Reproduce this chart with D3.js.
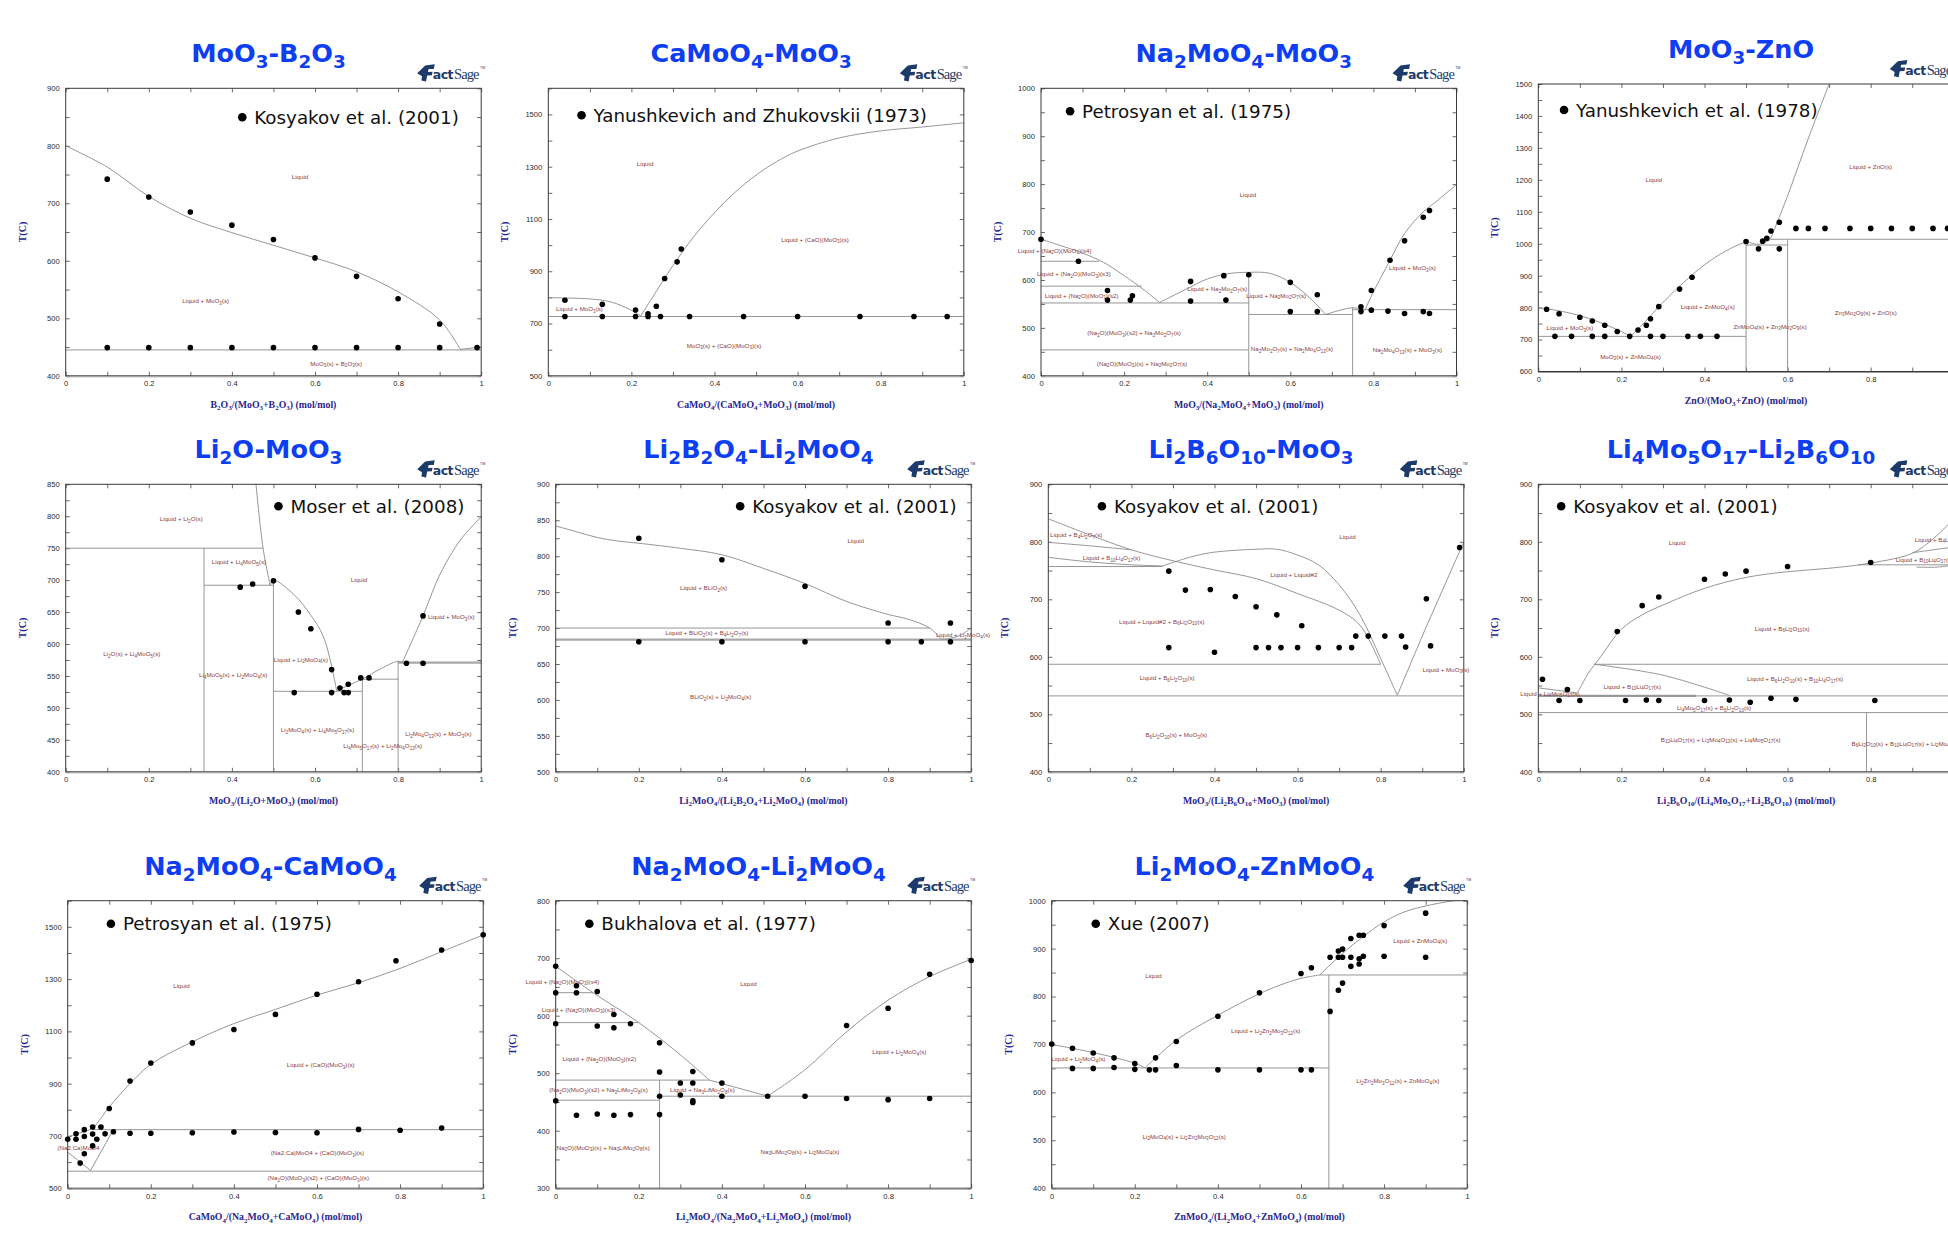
<!DOCTYPE html>
<html>
<head>
<meta charset="utf-8">
<script src="https://cdn.jsdelivr.net/npm/d3@7"></script>
<style>
  html, body { margin: 0; padding: 0; background: #fff; overflow: hidden; }
  svg { display: block; }
</style>
</head>
<body>
<script>
// ---------- shared axis values ----------
const xMajor = [0, 0.2, 0.4, 0.6, 0.8, 1];
const xTickLabels = ["0", "0.2", "0.4", "0.6", "0.8", "1"];

// ---------- MoO3-B2O3 ----------
const mbTicks = [400, 500, 600, 700, 800, 900];
const mbLiquidus = [[0,800],[0.1,763],[0.2,712],[0.3,674],[0.4,649],[0.5,627],[0.6,605],[0.7,581],[0.8,546],[0.9,497],[0.95,446]];
const mbLiquidusB2O3 = [[0.95,446],[1,450]];
const mbEutectic = [[0,445],[1,445]];
const mbPoints = [[0.1,742],[0.2,711],[0.3,685],[0.4,662],[0.5,637],[0.6,605],[0.7,573],[0.8,534],[0.9,490],
  [0.1,449],[0.2,449],[0.3,449],[0.4,449],[0.5,449],[0.6,449],[0.7,449],[0.8,449],[0.9,449],[0.99,449]];
const mbLabels = [[0.564,746,"Liquid"],[0.337,530,"Liquid + MoO_3(s)"],[0.651,421,"MoO_3(s) + B_2O_3(s)"]];

// ---------- CaMoO4-MoO3 ----------
const cmTicks = [500, 700, 900, 1100, 1300, 1500];
const cmLiquidusMoO3 = [[0,799],[0.1,794],[0.15,783],[0.2,751],[0.222,729]];
const cmLiquidusCaMoO4 = [[0.222,729],[0.25,798],[0.3,922],[0.35,1032],[0.4,1124],[0.45,1203],[0.5,1268],[0.55,1320],[0.6,1360],[0.7,1410],[0.8,1437],[0.9,1452],[1,1468]];
const cmEutectic = [[0,727],[1,727]];
const cmPoints = [[0.04,789],[0.04,727],[0.13,774],[0.13,727],[0.21,752],[0.21,727],[0.24,737],[0.24,727],[0.26,766],[0.27,727],
  [0.28,872],[0.31,936],[0.32,985],[0.34,727],[0.47,727],[0.6,727],[0.75,727],[0.88,727],[0.96,727]];
const cmLabels = [[0.233,1311,"Liquid"],[0.075,756,"Liquid + MoO_3(s)"],[0.642,1022,"Liquid + (CaO)(MoO_3)(s)"],[0.423,616,"MoO_3(s) + (CaO)(MoO_3)(s)"]];

// ---------- Na2MoO4-MoO3 ----------
const nmTicks = [400, 500, 600, 700, 800, 900, 1000];
const nmLiquidusLeft = [[0,685],[0.1,656],[0.15,637],[0.2,609],[0.25,578],[0.285,553]];
const nmDome = [[0.285,553],[0.35,581],[0.4,602],[0.45,613],[0.5,616],[0.55,614],[0.6,595],[0.65,560],[0.685,528]];
const nmBump = [[0.685,528],[0.72,537],[0.75,542],[0.78,538]];
const nmLiquidusMoO3 = [[0.78,538],[0.8,575],[0.84,641],[0.875,697],[0.92,742],[0.95,763],[1,799]];
const nmInvariants = [[[0,639],[0.14,639]],[[0,587],[0.242,587]],[[0,552],[0.5,552]],[[0,454],[0.5,454]],[[0.5,528],[0.75,528]],[[0.75,538],[1,538]],
  [[0.5,400],[0.5,616]],[[0.75,400],[0.75,542]]];
const nmPoints = [[0,685],[0.09,639],[0.16,578],[0.16,558],[0.215,558],[0.22,567],[0.36,597],[0.36,556],[0.44,609],[0.445,558],[0.5,611],
  [0.6,595],[0.6,534],[0.665,569],[0.665,534],[0.77,544],[0.77,534],[0.795,578],[0.795,537],[0.84,641],[0.835,535],[0.875,682],[0.875,530],
  [0.92,731],[0.92,534],[0.935,745],[0.935,530]];
const nmLabels = [[0.498,778,"Liquid"],[0.033,661,"Liquid + (Na_2O)(MoO_3)(s4)"],[0.079,612,"Liquid + (Na_2O)(MoO_3)(s3)"],[0.098,567,"Liquid + (Na_2O)(MoO_3)(s2)"],
  [0.424,581,"Liquid + Na_2Mo_2O_7(s)"],[0.566,567,"Liquid + Na_2Mo_2O_7(s)"],[0.894,625,"Liquid + MoO_3(s)"],
  [0.224,489,"(Na_2O)(MoO_3)(s2) + Na_2Mo_2O_7(s)"],[0.243,426,"(Na_2O)(MoO_3)(s) + Na_2Mo_2O_7(s)"],
  [0.604,456,"Na_2Mo_2O_7(s) + Na_2Mo_4O_13(s)"],[0.882,454,"Na_2Mo_4O_13(s) + MoO_3(s)"]];

// ---------- MoO3-ZnO ----------
const mzTicks = [600, 700, 800, 900, 1000, 1100, 1200, 1300, 1400, 1500];
const mzLiquidusMoO3 = [[0,800],[0.05,790],[0.1,775],[0.15,753],[0.2,725],[0.222,710]];
const mzLiquidusZnMoO4 = [[0.222,710],[0.25,746],[0.3,816],[0.35,879],[0.4,934],[0.45,976],[0.5,1004],[0.53,998],[0.558,1012]];
const mzLiquidusZnO = [[0.558,1012],[0.6,1150],[0.65,1330],[0.7,1500]];
const mzInvariants = [[[0,710],[0.5,710]],[[0.5,996],[0.6,996]],[[0.56,1014],[1,1014]],[[0.5,600],[0.5,1004]],[[0.6,600],[0.6,1014]]];
const mzPoints = [[0.02,795],[0.05,781],[0.1,770],[0.13,758],[0.16,745],[0.19,725],[0.22,710],[0.24,730],[0.26,745],[0.27,765],[0.29,803],
  [0.34,858],[0.37,895],[0.5,1007],[0.53,984],[0.54,1008],[0.55,1017],[0.56,1040],[0.58,1067],[0.58,984],
  [0.04,710],[0.08,710],[0.13,710],[0.16,710],[0.27,710],[0.3,710],[0.36,710],[0.39,710],[0.43,710],
  [0.62,1048],[0.65,1048],[0.69,1048],[0.75,1048],[0.8,1048],[0.85,1048],[0.9,1048],[0.95,1048],[0.985,1048]];
const mzLabels = [[0.278,1200,"Liquid"],[0.8,1241,"Liquid + ZnO(s)"],[0.408,801,"Liquid + ZnMoO_4(s)"],[0.076,736,"Liquid + MoO_3(s)"],
  [0.222,647,"MoO_3(s) + ZnMoO_4(s)"],[0.558,741,"ZnMoO_4(s) + Zn_3Mo_2O_9(s)"],[0.788,785,"Zn_3Mo_2O_9(s) + ZnO(s)"]];

// ---------- Li2O-MoO3 ----------
const lmTicks = [400, 450, 500, 550, 600, 650, 700, 750, 800, 850];
const lmLiquidusLi4MoO5 = [[0.458,850],[0.475,750],[0.492,692]];
const lmLiquidusLi2MoO4 = [[0.492,692],[0.5,700],[0.55,677],[0.59,645],[0.62,612],[0.64,565],[0.652,527]];
const lmLiquidusMid = [[0.652,527],[0.7,541],[0.714,545],[0.76,562],[0.8,573],[0.81,571]];
const lmLiquidusMoO3 = [[0.81,571],[0.86,644],[0.9,708],[0.95,763],[1,799]];
const lmInvariants = [[[0,750],[0.475,750]],[[0.333,692],[0.5,692]],[[0.5,526],[0.714,526]],[[0.714,545],[0.8,545]],
  [[0.333,400],[0.333,750]],[[0.5,400],[0.5,700]],[[0.714,400],[0.714,545]],[[0.8,400],[0.8,573]]];
const lmThick = [[[0.8,571],[1,571]]];
const lmPoints = [[0.42,689],[0.45,694],[0.5,699],[0.56,650],[0.59,624],[0.64,560],[0.55,524],[0.64,524],[0.66,531],[0.67,524],[0.68,537],
  [0.68,524],[0.71,547],[0.73,547],[0.82,570],[0.86,570],[0.86,644]];
const lmLabels = [[0.278,796,"Liquid + Li_2O(s)"],[0.417,728,"Liquid + Li_4MoO_5(s)"],[0.706,701,"Liquid"],[0.928,642,"Liquid + MoO_3(s)"],
  [0.159,584,"Li_2O(s) + Li_4MoO_5(s)"],[0.566,576,"Liquid + Li_2MoO_4(s)"],[0.403,551,"Li_4MoO_5(s) + Li_2MoO_4(s)"],
  [0.606,465,"Li_2MoO_4(s) + Li_4Mo_5O_17(s)"],[0.763,440,"Li_4Mo_5O_17(s) + Li_2Mo_4O_13(s)"],[0.897,459,"Li_2Mo_4O_13(s) + MoO_3(s)"]];

// ---------- Li2B2O4-Li2MoO4 ----------
const bmTicks = [500, 550, 600, 650, 700, 750, 800, 850, 900];
const bmLiquidusBLiO2 = [[0,842],[0.05,834],[0.1,826],[0.15,821],[0.2,818],[0.3,811],[0.4,802],[0.5,783],[0.6,762],[0.7,737],[0.8,719],[0.85,712],[0.9,700],[0.93,684]];
const bmLiquidusLi2MoO4 = [[0.93,684],[0.97,689],[1,700]];
const bmInvariants = [[[0,700],[0.9,700]]];
const bmThick = [[[0,684],[1,684]]];
const bmPoints = [[0.2,825],[0.4,795],[0.6,758],[0.8,707],[0.95,707],[0.2,681],[0.4,681],[0.6,681],[0.8,681],[0.88,681],[0.95,681]];
const bmLabels = [[0.722,821,"Liquid"],[0.356,756,"Liquid + BLiO_2(s)"],[0.364,693,"Liquid + BLiO_2(s) + B_4Li_2O_7(s)"],
  [0.915,690,"Liquid + Li_2MoO_4(s)","start"],[0.397,604,"BLiO_2(s) + Li_2MoO_4(s)"]];

// ---------- Li2B6O10-MoO3 ----------
const btTicks = [400, 500, 600, 700, 800, 900];
const btUpper = [[0,840],[0.1,812],[0.2,786],[0.3,767],[0.4,751],[0.5,736],[0.6,710],[0.7,681],[0.75,655],[0.8,587]];
const btDome = [[0.275,758],[0.35,775],[0.4,782],[0.5,787],[0.55,787],[0.6,777],[0.65,760],[0.7,725],[0.75,673],[0.8,597],[0.84,533]];
const btB4Li2O7 = [[0,799],[0.1,793],[0.2,786]];
const btB10Li4O17 = [[0,773],[0.1,765],[0.2,760],[0.275,758]];
const btLiquidusMoO3 = [[0.84,533],[0.9,636],[0.95,718],[1,800]];
const btInvariants = [[[0,757],[0.275,757]],[[0,587],[0.8,587]],[[0,532],[1,532]]];
const btPoints = [[0.29,749],[0.29,616],[0.33,716],[0.39,717],[0.4,608],[0.45,705],[0.5,687],[0.5,616],[0.53,616],[0.55,673],[0.56,616],
  [0.6,616],[0.61,654],[0.65,616],[0.7,616],[0.73,616],[0.74,636],[0.77,636],[0.81,636],[0.85,636],[0.86,617],[0.91,701],[0.92,619],[0.99,790]];
const btLabels = [[0.067,812,"Liquid + B_4Li_2O_7(s)"],[0.152,772,"Liquid + B_10Li_4O_17(s)"],[0.72,809,"Liquid"],[0.591,742,"Liquid + Liquid#2"],
  [0.273,661,"Liquid + Liquid#2 + B_6Li_2O_10(s)"],[0.286,563,"Liquid + B_6Li_2O_10(s)"],[0.957,578,"Liquid + MoO_3(s)"],[0.308,464,"B_6Li_2O_10(s) + MoO_3(s)"]];

// ---------- Li4Mo5O17-Li2B6O10 ----------
const lbTicks = [400, 500, 600, 700, 800, 900];
const lbLiquidus = [[0.095,539],[0.1,545],[0.12,571],[0.15,600],[0.2,648],[0.25,673],[0.3,690],[0.4,719],[0.5,738],[0.6,748],[0.7,754],[0.8,763],[0.9,780],[0.95,805],[1,840]];
const lbUpperRight = [[0.9,781],[0.95,786],[1,791]];
const lbLowerRight = [[0.91,756],[0.96,756],[1,760]];
const lbB10Li4O17 = [[0.135,587],[0.3,568],[0.46,533]];
const lbLi4Mo5O17 = [[0,546],[0.095,537]];
const lbInvariants = [[[0.135,587],[1,587]],[[0,532],[1,532]],[[0,503],[1,503]],[[0.77,760],[1,760]],[[0.79,400],[0.79,503]]];
const lbThick = [[[0,532],[0.38,532]]];
const lbPoints = [[0.01,561],[0.05,524],[0.07,543],[0.1,524],[0.19,644],[0.21,524],[0.25,689],[0.26,525],[0.29,704],[0.29,524],[0.4,735],[0.4,524],
  [0.45,744],[0.46,525],[0.5,749],[0.51,521],[0.56,528],[0.6,757],[0.62,526],[0.8,764],[0.81,524]];
const lbLabels = [[0.334,799,"Liquid"],[0.906,804,"Liquid + B_4Li_2O_7(s)","start"],[0.86,769,"Liquid + B_10Li_4O_17(s)","start"],
  [0.587,649,"Liquid + B_6Li_2O_10(s)"],[0.618,561,"Liquid + B_6Li_2O_10(s) + B_10Li_4O_17(s)"],[0.226,548,"Liquid + B_10Li_4O_17(s)"],
  [0.028,536,"Liquid + Li_4Mo_5O_17(s)"],[0.423,511,"Li_4Mo_5O_17(s) + B_6Li_2O_10(s)"],
  [0.439,456,"B_10Li_4O_17(s) + Li_2Mo_4O_13(s) + Li_4Mo_5O_17(s)"],[0.754,449,"B_6Li_2O_10(s) + B_10Li_4O_17(s) + Li_2Mo_4O_13(s)","start"]];

// ---------- Na2MoO4-CaMoO4 ----------
const ncTicks = [500, 700, 900, 1100, 1300, 1500];
const ncLiquidus = [[0,697],[0.03,712],[0.06,730],[0.08,768],[0.1,811],[0.15,900],[0.2,974],[0.3,1060],[0.4,1130],[0.5,1184],[0.6,1239],[0.7,1286],[0.8,1341],[0.9,1405],[1,1469]];
const ncInvariants = [[[0.06,724],[1,724]],[[0,565],[1,565]],[[0,638],[0.055,568]],[[0.055,568],[0.11,724]]];
const ncPoints = [[0,687],[0.02,708],[0.02,687],[0.03,596],[0.04,724],[0.04,698],[0.04,632],[0.06,734],[0.06,707],[0.06,662],[0.07,687],[0.08,734],
  [0.09,708],[0.1,805],[0.11,716],[0.15,910],[0.15,710],[0.2,979],[0.2,710],[0.3,1056],[0.3,712],[0.4,1107],[0.4,715],[0.5,1165],[0.5,713],
  [0.6,1242],[0.6,712],[0.7,1290],[0.7,725],[0.79,1370],[0.8,722],[0.9,1411],[0.9,730],[1,1470]];
const ncLabels = [[0.274,1274,"Liquid"],[0.609,972,"Liquid + (CaO)(MoO_3)(s)"],[0.026,656,"(Na2,Ca)MoO4"],
  [0.601,634,"(Na2,Ca)MoO4 + (CaO)(MoO_3)(s)"],[0.603,538,"(Na_2O)(MoO_3)(s2) + (CaO)(MoO_3)(s)"]];

// ---------- Na2MoO4-Li2MoO4 ----------
const nlTicks = [300, 400, 500, 600, 700, 800];
const nlLiquidusNa = [[0,686],[0.09,640],[0.2,588],[0.3,532],[0.37,488]];
const nlLiquidusNa3LiMo2O8 = [[0.37,488],[0.51,460]];
const nlLiquidusLi2MoO4 = [[0.51,460],[0.6,506],[0.7,572],[0.8,627],[0.9,668],[1,698]];
const nlInvariants = [[[0,640],[0.09,640]],[[0,588],[0.2,588]],[[0,488],[0.37,488]],[[0,453],[0.25,453]],[[0.25,460],[1,460]],[[0.25,300],[0.25,488]]];
const nlPoints = [[0,686],[0,640],[0,586],[0,452],[0.05,652],[0.05,640],[0.05,427],[0.1,642],[0.1,582],[0.1,429],[0.14,602],[0.14,579],[0.14,427],
  [0.18,586],[0.18,428],[0.25,553],[0.25,502],[0.25,460],[0.25,428],[0.3,483],[0.3,462],[0.33,503],[0.33,483],[0.33,452],[0.33,449],
  [0.4,483],[0.4,460],[0.51,460],[0.6,460],[0.7,583],[0.7,456],[0.8,613],[0.8,454],[0.9,672],[0.9,456],[1,696]];
const nlLabels = [[0.016,659,"Liquid + (Na_2O)(MoO_3)(s4)"],[0.464,655,"Liquid"],[0.055,611,"Liquid + (Na_2O)(MoO_3)(s3)"],
  [0.105,525,"Liquid + (Na_2O)(MoO_3)(s2)"],[0.103,471,"(Na_2O)(MoO_3)(s2) + Na_3LiMo_2O_8(s)"],[0.353,471,"Liquid + Na_3LiMo_2O_8(s)"],
  [0.827,537,"Liquid + Li_2MoO_4(s)"],[0.112,371,"(Na_2O)(MoO_3)(s) + Na_3LiMo_2O_8(s)"],[0.588,364,"Na_3LiMo_2O_8(s) + Li_2MoO_4(s)"]];

// ---------- Li2MoO4-ZnMoO4 ----------
const lzTicks = [400, 500, 600, 700, 800, 900, 1000];
const lzLiquidusLi2MoO4 = [[0,700],[0.1,683],[0.2,661],[0.225,651]];
const lzLiquidusLi2Zn2 = [[0.225,651],[0.3,709],[0.4,761],[0.5,806],[0.55,824],[0.6,838],[0.645,845]];
const lzLiquidusZnMoO4 = [[0.645,845],[0.7,890],[0.75,925],[0.8,956],[0.85,977],[0.9,989],[0.96,999],[1,1003]];
const lzInvariants = [[[0,651],[0.667,651]],[[0.645,845],[1,845]],[[0.667,400],[0.667,845]]];
const lzPoints = [[0,701],[0.05,692],[0.05,650],[0.1,682],[0.1,650],[0.15,672],[0.15,652],[0.2,660],[0.2,648],[0.235,647],[0.25,672],[0.25,647],
  [0.3,706],[0.3,656],[0.4,759],[0.4,647],[0.5,808],[0.5,647],[0.6,848],[0.6,647],[0.625,860],[0.625,647],[0.67,882],[0.67,769],
  [0.69,895],[0.69,882],[0.69,813],[0.7,882],[0.7,899],[0.7,828],[0.72,921],[0.72,882],[0.72,863],[0.74,928],[0.74,879],[0.74,868],
  [0.75,928],[0.75,884],[0.8,948],[0.8,884],[0.9,974],[0.9,882]];
const lzLabels = [[0.245,843,"Liquid"],[0.887,917,"Liquid + ZnMoO_4(s)"],[0.064,670,"Liquid + Li_2MoO_4(s)"],[0.515,728,"Liquid + Li_2Zn_2Mo_3O_12(s)"],
  [0.833,624,"Li_2Zn_2Mo_3O_12(s) + ZnMoO_4(s)"],[0.319,508,"Li_2MoO_4(s) + Li_2Zn_2Mo_3O_12(s)"]];

// ---------- panel layout ----------
const PW = 415.5, PH = 287.5;
const panels = [
  { left: 65.7, top: 88.3, title: "MoO_3-B_2O_3", xTitle: "B_2O_3/(MoO_3+B_2O_3) (mol/mol)", yDomain: [400, 900], yTicks: mbTicks,
    curves: [mbLiquidus, mbLiquidusB2O3], segs: [mbEutectic], thick: [], points: mbPoints, labels: mbLabels,
    legend: "Kosyakov et al. (2001)", legFx: 0.425, legDy: 29 },
  { left: 548.3, top: 88.3, title: "CaMoO_4-MoO_3", xTitle: "CaMoO_4/(CaMoO_4+MoO_3) (mol/mol)", yDomain: [500, 1600], yTicks: cmTicks,
    curves: [cmLiquidusMoO3, cmLiquidusCaMoO4], segs: [cmEutectic], thick: [], points: cmPoints, labels: cmLabels,
    legend: "Yanushkevich and Zhukovskii (1973)", legFx: 0.08, legDy: 27 },
  { left: 1041, top: 88.3, title: "Na_2MoO_4-MoO_3", xTitle: "MoO_3/(Na_2MoO_4+MoO_3) (mol/mol)", yDomain: [400, 1000], yTicks: nmTicks,
    curves: [nmLiquidusLeft, nmDome, nmBump, nmLiquidusMoO3], segs: nmInvariants, thick: [], points: nmPoints, labels: nmLabels,
    legend: "Petrosyan et al. (1975)", legFx: 0.07, legDy: 23 },
  { left: 1538.3, top: 84, title: "MoO_3-ZnO", xTitle: "ZnO/(MoO_3+ZnO) (mol/mol)", yDomain: [600, 1500], yTicks: mzTicks,
    curves: [mzLiquidusMoO3, mzLiquidusZnMoO4, mzLiquidusZnO], segs: mzInvariants, thick: [], points: mzPoints, labels: mzLabels,
    legend: "Yanushkevich et al. (1978)", legFx: 0.062, legDy: 26 },
  { left: 65.7, top: 484.3, title: "Li_2O-MoO_3", xTitle: "MoO_3/(Li_2O+MoO_3) (mol/mol)", yDomain: [400, 850], yTicks: lmTicks,
    curves: [lmLiquidusLi4MoO5, lmLiquidusLi2MoO4, lmLiquidusMid, lmLiquidusMoO3], segs: lmInvariants, thick: lmThick, points: lmPoints, labels: lmLabels,
    legend: "Moser et al. (2008)", legFx: 0.512, legDy: 22 },
  { left: 555.7, top: 484.3, title: "Li_2B_2O_4-Li_2MoO_4", xTitle: "Li_2MoO_4/(Li_2B_2O_4+Li_2MoO_4) (mol/mol)", yDomain: [500, 900], yTicks: bmTicks,
    curves: [bmLiquidusBLiO2, bmLiquidusLi2MoO4], segs: bmInvariants, thick: bmThick, points: bmPoints, labels: bmLabels,
    legend: "Kosyakov et al. (2001)", legFx: 0.444, legDy: 22 },
  { left: 1048.3, top: 484.3, title: "Li_2B_6O_10-MoO_3", xTitle: "MoO_3/(Li_2B_6O_10+MoO_3) (mol/mol)", yDomain: [400, 900], yTicks: btTicks,
    curves: [btUpper, btDome, btB4Li2O7, btB10Li4O17, btLiquidusMoO3], segs: btInvariants, thick: [], points: btPoints, labels: btLabels,
    legend: "Kosyakov et al. (2001)", legFx: 0.129, legDy: 22 },
  { left: 1538.3, top: 484.3, title: "Li_4Mo_5O_17-Li_2B_6O_10", xTitle: "Li_2B_6O_10/(Li_4Mo_5O_17+Li_2B_6O_10) (mol/mol)", yDomain: [400, 900], yTicks: lbTicks,
    curves: [lbLiquidus, lbUpperRight, lbLowerRight, lbB10Li4O17, lbLi4Mo5O17], segs: lbInvariants, thick: lbThick, points: lbPoints, labels: lbLabels,
    legend: "Kosyakov et al. (2001)", legFx: 0.055, legDy: 22 },
  { left: 67.7, top: 900.7, title: "Na_2MoO_4-CaMoO_4", xTitle: "CaMoO_4/(Na_2MoO_4+CaMoO_4) (mol/mol)", yDomain: [500, 1600], yTicks: ncTicks,
    curves: [ncLiquidus], segs: ncInvariants, thick: [], points: ncPoints, labels: ncLabels,
    legend: "Petrosyan et al. (1975)", legFx: 0.104, legDy: 23 },
  { left: 555.7, top: 900.7, title: "Na_2MoO_4-Li_2MoO_4", xTitle: "Li_2MoO_4/(Na_2MoO_4+Li_2MoO_4) (mol/mol)", yDomain: [300, 800], yTicks: nlTicks,
    curves: [nlLiquidusNa, nlLiquidusNa3LiMo2O8, nlLiquidusLi2MoO4], segs: nlInvariants, thick: [], points: nlPoints, labels: nlLabels,
    legend: "Bukhalova et al. (1977)", legFx: 0.081, legDy: 23 },
  { left: 1051.7, top: 900.7, title: "Li_2MoO_4-ZnMoO_4", xTitle: "ZnMoO_4/(Li_2MoO_4+ZnMoO_4) (mol/mol)", yDomain: [400, 1000], yTicks: lzTicks,
    curves: [lzLiquidusLi2MoO4, lzLiquidusLi2Zn2, lzLiquidusZnMoO4], segs: lzInvariants, thick: [], points: lzPoints, labels: lzLabels,
    legend: "Xue (2007)", legFx: 0.106, legDy: 23 }
];

// ---------- styles ----------
const TITLE_BLUE = "#0d3ef2";
const AXIS_NAVY = "#26268f";
const PHASE_BROWN = "#8a3c3c";
const LINE_GRAY = "#8a8a8a";
const LOGO_BLUE = "#1d3b6a";

const svg = d3.select("body").append("svg").attr("width", 1948).attr("height", 1258);
svg.append("rect").attr("width", 1948).attr("height", 1258).attr("fill", "#fff");
const defs = svg.append("defs");

// Text with "_n" marked subscripts
function richText(sel, str, size, scale = 0.72, shift = 0.26) {
  const parts = str.split(/_(\d+)/);
  let down = false;
  parts.forEach((s, i) => {
    if (s === "") return;
    const t = sel.append("tspan").text(s);
    if (i % 2 === 1) {
      t.attr("font-size", size * scale);
      if (!down) { t.attr("dy", size * shift); down = true; }
    } else if (down) {
      t.attr("dy", -size * shift);
      down = false;
    }
  });
  return sel;
}

// FactSage mark: icon plus a single text run
function drawLogo(xr, yb) {
  const g = svg.append("g").attr("transform", `translate(${xr - 64},${yb - 19})`);
  g.append("path")
    .attr("d", "M0,10 L8,2.2 L17.5,1 L16.6,5.6 L11.4,5.8 L10.8,8.6 L15.4,8.5 L14.7,12 L10,12.2 L8.8,18.2 L4.2,17.2 L4.8,13 Z")
    .attr("fill", LOGO_BLUE);
  const t = g.append("text").attr("x", 15.5).attr("y", 15.5).attr("fill", LOGO_BLUE);
  t.append("tspan").attr("font-family", "DejaVu Sans").attr("font-weight", "bold").attr("font-size", 12.5)
    .attr("letter-spacing", -0.5).text("act");
  t.append("tspan").attr("dx", 1).attr("font-family", "Liberation Serif").attr("font-size", 14.5)
    .attr("letter-spacing", -0.9).text("Sage");
  t.append("tspan").attr("dx", 1.5).attr("dy", -10).attr("font-family", "Liberation Sans").attr("font-size", 3.5).text("TM");
}

panels.forEach((p, idx) => {
  const x = d3.scaleLinear().domain([0, 1]).range([p.left, p.left + PW]);
  const y = d3.scaleLinear().domain(p.yDomain).range([p.top + PH, p.top]);
  const g = svg.append("g");

  const clipId = "plotclip" + idx;
  defs.append("clipPath").attr("id", clipId)
    .append("rect").attr("x", p.left).attr("y", p.top).attr("width", PW).attr("height", PH);

  // title
  const title = g.append("text")
    .attr("x", p.left + PW / 2 - 5).attr("y", p.top - 26)
    .attr("text-anchor", "middle")
    .attr("font-family", "DejaVu Sans").attr("font-weight", "bold").attr("font-size", 25.5)
    .attr("fill", TITLE_BLUE);
  richText(title, p.title, 25.5, 0.72, 0.24);

  drawLogo(p.left + PW, p.top - 6);

  // axes: inward ticks on all four sides
  const xMinor = d3.range(0, 1.0001, 0.1);
  const xFmt = d => {
    const i = xMajor.findIndex(v => Math.abs(v - d) < 1e-6);
    return i >= 0 ? xTickLabels[i] : "";
  };
  const yStep = p.yTicks[1] - p.yTicks[0];
  const yMinor = d3.range(p.yDomain[0], p.yDomain[1] + 1e-6, yStep / 2);
  const yFmt = d => (p.yTicks.includes(d) ? String(d) : "");

  const axes = [
    g.append("g").attr("transform", `translate(0,${p.top + PH})`)
      .call(d3.axisBottom(x).tickValues(xMinor).tickSizeInner(-4).tickSizeOuter(0).tickPadding(5).tickFormat(xFmt)),
    g.append("g").attr("transform", `translate(0,${p.top})`)
      .call(d3.axisTop(x).tickValues(xMinor).tickSizeInner(-4).tickSizeOuter(0).tickFormat("")),
    g.append("g").attr("transform", `translate(${p.left},0)`)
      .call(d3.axisLeft(y).tickValues(yMinor).tickSizeInner(-4).tickSizeOuter(0).tickPadding(6).tickFormat(yFmt)),
    g.append("g").attr("transform", `translate(${p.left + PW},0)`)
      .call(d3.axisRight(y).tickValues(yMinor).tickSizeInner(-4).tickSizeOuter(0).tickFormat(""))
  ];
  axes.forEach(a => {
    a.select(".domain").remove();
    a.selectAll(".tick line").attr("stroke", "#444").attr("stroke-width", 0.8);
    a.selectAll(".tick text").attr("font-family", "Liberation Sans").attr("font-size", 7.6).attr("fill", "#2a2a2a");
  });

  // phase boundaries
  const plot = g.append("g").attr("clip-path", `url(#${clipId})`);
  const smooth = d3.line().x(d => x(d[0])).y(d => y(d[1])).curve(d3.curveCatmullRom.alpha(0.5));
  const straight = d3.line().x(d => x(d[0])).y(d => y(d[1]));
  p.thick.forEach(s => plot.append("path").attr("d", straight(s)).attr("fill", "none")
    .attr("stroke", "#a8a8a8").attr("stroke-width", 2.2));
  p.segs.forEach(s => plot.append("path").attr("d", straight(s)).attr("fill", "none")
    .attr("stroke", LINE_GRAY).attr("stroke-width", 0.9));
  p.curves.forEach(c => plot.append("path").attr("d", smooth(c)).attr("fill", "none")
    .attr("stroke", LINE_GRAY).attr("stroke-width", 0.9));

  // frame
  g.append("rect").attr("x", p.left).attr("y", p.top).attr("width", PW).attr("height", PH)
    .attr("fill", "none").attr("stroke", "#3a3a3a").attr("stroke-width", 1);
  g.append("line").attr("x1", p.left).attr("x2", p.left + PW).attr("y1", p.top + PH + 1).attr("y2", p.top + PH + 1)
    .attr("stroke", "#9a9a9a").attr("stroke-width", 1);

  // phase-region labels
  p.labels.forEach(l => {
    const t = g.append("text").attr("x", x(l[0])).attr("y", y(l[1])).attr("dy", "0.35em")
      .attr("text-anchor", l[3] || "middle")
      .attr("font-family", "Liberation Sans").attr("font-size", 6.2).attr("fill", PHASE_BROWN);
    richText(t, l[2], 6.2, 0.75, 0.25);
  });

  // experimental points
  g.append("g").selectAll("circle").data(p.points).join("circle")
    .attr("cx", d => x(d[0])).attr("cy", d => y(d[1])).attr("r", 2.8).attr("fill", "#000");

  // legend
  const lx = p.left + p.legFx * PW, ly = p.top + p.legDy;
  g.append("circle").attr("cx", lx).attr("cy", ly).attr("r", 4.3).attr("fill", "#000");
  g.append("text").attr("x", lx + 12).attr("y", ly + 6.5)
    .attr("font-family", "DejaVu Sans").attr("font-size", 18.3).attr("fill", "#111").text(p.legend);

  // axis titles
  const xt = g.append("text").attr("x", p.left + PW / 2).attr("y", p.top + PH + 32)
    .attr("text-anchor", "middle").attr("font-family", "Liberation Serif").attr("font-weight", "bold")
    .attr("font-size", 9.8).attr("fill", AXIS_NAVY);
  richText(xt, p.xTitle, 9.8, 0.72, 0.25);
  g.append("text").attr("transform", `translate(${p.left - 40},${p.top + PH / 2}) rotate(-90)`)
    .attr("text-anchor", "middle").attr("font-family", "Liberation Serif").attr("font-weight", "bold")
    .attr("font-size", 10).attr("fill", AXIS_NAVY).text("T(C)");
});
</script>
</body>
</html>
